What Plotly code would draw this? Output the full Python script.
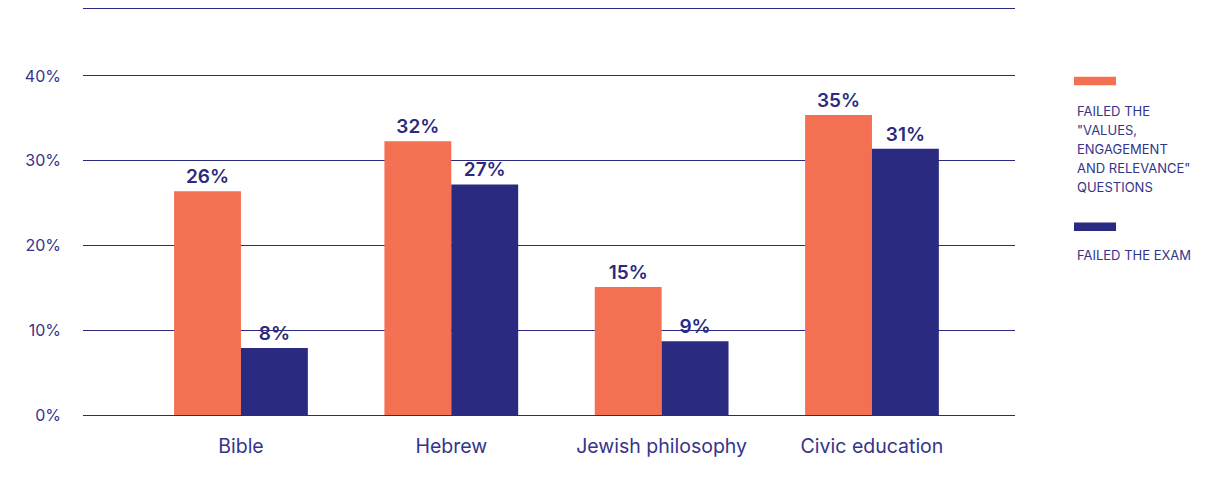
import plotly.graph_objects as go

categories = ["Bible", "Hebrew", "Jewish philosophy", "Civic education"]
failed_values = [26.4, 32.3, 15.1, 35.4]
failed_labels = ["26%", "32%", "15%", "35%"]
exam_values = [7.9, 27.2, 8.7, 31.4]
exam_labels = ["8%", "27%", "9%", "31%"]
series_lines = [['FAILED THE', '"VALUES,', 'ENGAGEMENT', 'AND RELEVANCE"', 'QUESTIONS'],
                ["FAILED THE EXAM"]]
y_ticks = [0, 10, 20, 30, 40]
y_tick_labels = ["0%", "10%", "20%", "30%", "40%"]

ORANGE = "#F37052"
NAVY = "#2A2A80"
TEXT = "#34348A"
FONT = "Inter"

fig = go.Figure()
fig.add_trace(go.Bar(x=categories, y=failed_values, text=failed_labels,
                     marker=dict(color=ORANGE, line=dict(width=0)),
                     textposition="outside", cliponaxis=False,
                     textfont=dict(family=FONT, size=19, color=NAVY, weight=600)))
fig.add_trace(go.Bar(x=categories, y=exam_values, text=exam_labels,
                     marker=dict(color=NAVY, line=dict(width=0)),
                     textposition="outside", cliponaxis=False,
                     textfont=dict(family=FONT, size=19, color=NAVY, weight=600)))

fig.update_layout(
    width=1208, height=478,
    margin=dict(l=75, r=201, t=1, b=71, autoexpand=False),
    paper_bgcolor="white", plot_bgcolor="white",
    barmode="group", bargap=0.364, bargroupgap=0,
    showlegend=False,
    font=dict(family=FONT, color=TEXT, size=17),
    xaxis=dict(range=[-0.751, 3.68], showgrid=False, showline=True, mirror=True,
               linecolor=NAVY, linewidth=1, ticks="", ticklabelstandoff=14,
               automargin=False, tickfont=dict(size=19.5, color=TEXT)),
    yaxis=dict(range=[0, 47.9], tickvals=y_ticks, ticktext=y_tick_labels,
               showgrid=True, gridcolor=NAVY, gridwidth=1, zeroline=False,
               showline=False, ticks="", ticklabelstandoff=21, automargin=False,
               tickfont=dict(size=16, color=TEXT)),
)

# custom legend
legend_colors = [ORANGE, NAVY]
rect_tops = [0.833, 0.474]
text_tops = [0.749, 0.393]
step = 0.0467
for lines, col, rt, tt in zip(series_lines, legend_colors, rect_tops, text_tops):
    fig.add_shape(type="rect", xref="paper", yref="paper",
                  x0=1.0633, x1=1.1084, y0=rt - 0.021, y1=rt,
                  fillcolor=col, line=dict(width=0))
    for i, line in enumerate(lines):
        fig.add_annotation(xref="paper", yref="paper", x=1.0644, y=tt - i * step,
                           xanchor="left", yanchor="middle", align="left",
                           text=line, showarrow=False,
                           font=dict(family=FONT, size=13, color=TEXT))

fig.write_html("out.html")
